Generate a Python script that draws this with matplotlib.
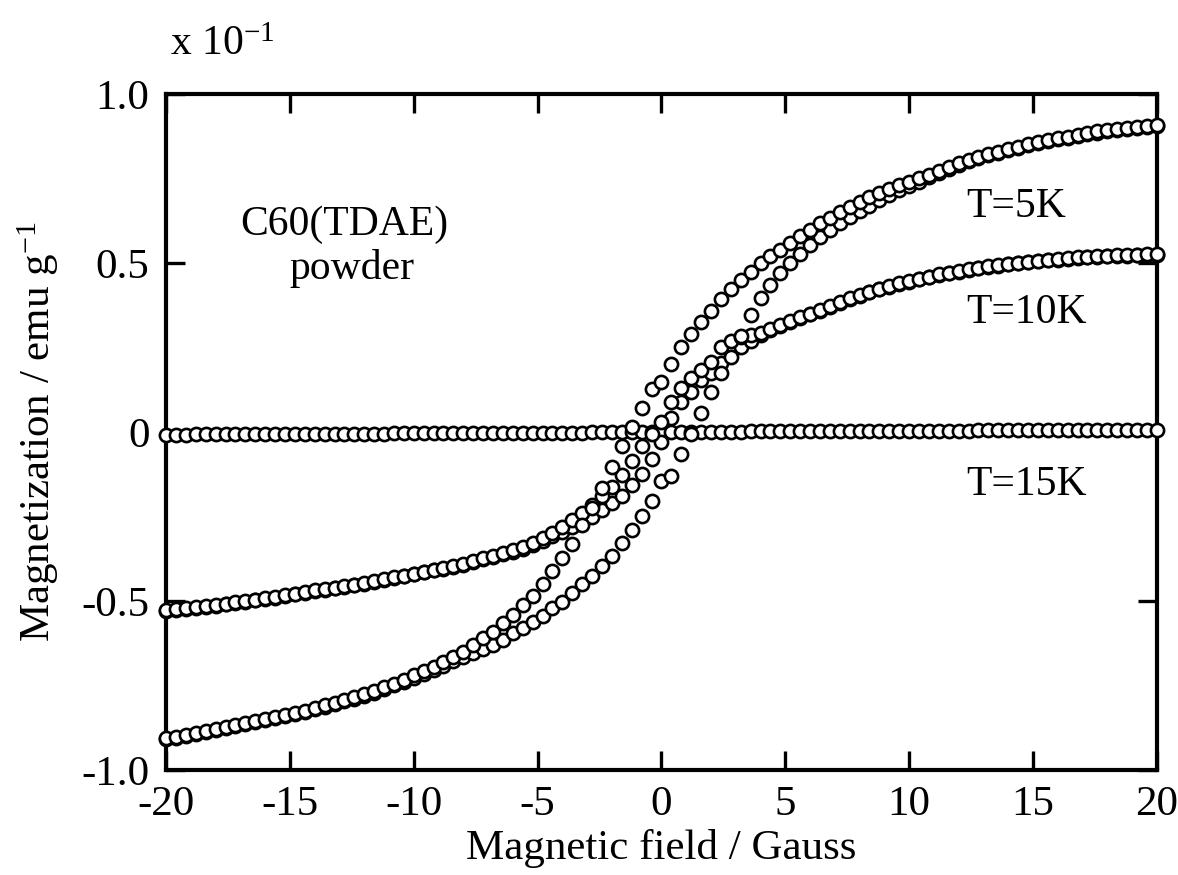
import numpy as np
import matplotlib
matplotlib.use("Agg")
import matplotlib.pyplot as plt

# field sweep, 0.4 G steps from -20 to 20 G
field = np.linspace(-20, 20, 101)

# T = 5K, field going down (upper branch)
m_5k_down = [
    -0.906, -0.901, -0.896, -0.890, -0.885, -0.879, -0.873, -0.867, -0.861, -0.855,
    -0.849, -0.843, -0.837, -0.831, -0.824, -0.817, -0.809, -0.801, -0.793, -0.784,
    -0.775, -0.765, -0.755, -0.745, -0.733, -0.720, -0.707, -0.694, -0.680, -0.665,
    -0.650, -0.630, -0.610, -0.591, -0.566, -0.541, -0.512, -0.485, -0.450, -0.410,
    -0.374, -0.331, -0.275, -0.225, -0.165, -0.105, -0.041, 0.014, 0.072, 0.127,
    0.149, 0.201, 0.250, 0.289, 0.324, 0.359, 0.393, 0.422, 0.450, 0.474,
    0.499, 0.522, 0.538, 0.558, 0.580, 0.598, 0.617, 0.634, 0.651, 0.666,
    0.681, 0.695, 0.708, 0.720, 0.731, 0.741, 0.750, 0.760, 0.772, 0.784,
    0.795, 0.804, 0.813, 0.821, 0.829, 0.836, 0.844, 0.851, 0.857, 0.863,
    0.869, 0.874, 0.880, 0.885, 0.889, 0.893, 0.896, 0.899, 0.902, 0.906,
    0.909,
]

# T = 5K, field going up (lower branch)
m_5k_up = [
    -0.909, -0.904, -0.899, -0.893, -0.888, -0.882, -0.876, -0.870, -0.864, -0.858,
    -0.852, -0.846, -0.840, -0.834, -0.828, -0.821, -0.813, -0.805, -0.797, -0.789,
    -0.780, -0.771, -0.761, -0.750, -0.739, -0.727, -0.715, -0.703, -0.691, -0.679,
    -0.666, -0.654, -0.642, -0.630, -0.615, -0.596, -0.581, -0.561, -0.544, -0.522,
    -0.502, -0.477, -0.450, -0.426, -0.395, -0.366, -0.329, -0.290, -0.250, -0.203,
    -0.144, -0.129, -0.065, -0.005, 0.055, 0.119, 0.174, 0.223, 0.285, 0.345,
    0.395, 0.435, 0.470, 0.499, 0.527, 0.553, 0.578, 0.598, 0.617, 0.636,
    0.654, 0.670, 0.686, 0.701, 0.715, 0.728, 0.741, 0.754, 0.767, 0.779,
    0.791, 0.801, 0.810, 0.818, 0.826, 0.833, 0.841, 0.848, 0.854, 0.860,
    0.866, 0.871, 0.877, 0.882, 0.886, 0.890, 0.893, 0.896, 0.899, 0.903,
    0.906,
]

# T = 10K, field going down
m_10k_down = [
    -0.527, -0.525, -0.522, -0.519, -0.516, -0.512, -0.508, -0.504, -0.500, -0.496,
    -0.492, -0.488, -0.483, -0.478, -0.473, -0.468, -0.464, -0.461, -0.456, -0.452,
    -0.448, -0.442, -0.436, -0.430, -0.425, -0.419, -0.413, -0.407, -0.402, -0.397,
    -0.391, -0.383, -0.374, -0.366, -0.359, -0.350, -0.340, -0.328, -0.315, -0.298,
    -0.280, -0.260, -0.241, -0.216, -0.190, -0.162, -0.127, -0.086, -0.041, -0.005,
    0.030, 0.090, 0.129, 0.159, 0.183, 0.208, 0.252, 0.270, 0.282, 0.288,
    0.292, 0.304, 0.317, 0.328, 0.339, 0.350, 0.361, 0.373, 0.385, 0.395,
    0.405, 0.415, 0.424, 0.432, 0.440, 0.447, 0.454, 0.460, 0.466, 0.471,
    0.476, 0.481, 0.486, 0.490, 0.494, 0.498, 0.501, 0.504, 0.507, 0.510,
    0.512, 0.515, 0.517, 0.519, 0.521, 0.522, 0.523, 0.524, 0.525, 0.526,
    0.527,
]

# T = 10K, field going up
m_10k_up = [
    -0.529, -0.526, -0.524, -0.521, -0.518, -0.514, -0.510, -0.506, -0.502, -0.498,
    -0.494, -0.490, -0.485, -0.480, -0.475, -0.470, -0.466, -0.462, -0.458, -0.454,
    -0.450, -0.444, -0.438, -0.432, -0.427, -0.421, -0.415, -0.409, -0.404, -0.399,
    -0.393, -0.386, -0.377, -0.369, -0.362, -0.354, -0.345, -0.334, -0.322, -0.308,
    -0.295, -0.282, -0.265, -0.252, -0.231, -0.211, -0.189, -0.157, -0.124, -0.080,
    -0.029, 0.040, 0.090, 0.119, 0.154, 0.174, 0.203, 0.235, 0.252, 0.270,
    0.286, 0.301, 0.314, 0.325, 0.336, 0.348, 0.359, 0.371, 0.382, 0.393,
    0.403, 0.413, 0.422, 0.430, 0.438, 0.445, 0.452, 0.458, 0.464, 0.469,
    0.474, 0.479, 0.484, 0.488, 0.492, 0.496, 0.499, 0.502, 0.505, 0.508,
    0.510, 0.513, 0.515, 0.517, 0.519, 0.520, 0.521, 0.522, 0.523, 0.524,
    0.525,
]

# T = 15K, no hysteresis
m_15k = [
    -0.008, -0.008, -0.008, -0.007, -0.007, -0.007, -0.007, -0.007, -0.007, -0.006,
    -0.006, -0.006, -0.006, -0.006, -0.006, -0.006, -0.005, -0.005, -0.005, -0.005,
    -0.005, -0.005, -0.005, -0.004, -0.004, -0.004, -0.004, -0.004, -0.004, -0.004,
    -0.004, -0.003, -0.003, -0.003, -0.003, -0.003, -0.003, -0.002, -0.002, -0.002,
    -0.002, -0.002, -0.002, -0.001, -0.001, -0.001, -0.001, -0.001, 0.000, 0.000,
    0.000, 0.000, 0.000, 0.001, 0.001, 0.001, 0.001, 0.001, 0.001, 0.002,
    0.002, 0.002, 0.002, 0.002, 0.002, 0.002, 0.003, 0.003, 0.003, 0.003,
    0.003, 0.003, 0.003, 0.003, 0.004, 0.004, 0.004, 0.004, 0.004, 0.004,
    0.004, 0.004, 0.005, 0.005, 0.005, 0.005, 0.005, 0.005, 0.005, 0.005,
    0.005, 0.006, 0.006, 0.006, 0.006, 0.006, 0.006, 0.006, 0.006, 0.006,
    0.006,
]

x_ticks = [-20, -15, -10, -5, 0, 5, 10, 15, 20]
x_tick_labels = ["-20", "-15", "-10", "-5", "0", "5", "10", "15", "20"]
y_ticks = [-1.0, -0.5, 0.0, 0.5, 1.0]
y_tick_labels = ["-1.0", "-0.5", "0", "0.5", "1.0"]

plt.rcParams["font.family"] = ["Liberation Serif", "DejaVu Serif"]
plt.rcParams["mathtext.fontset"] = "custom"
plt.rcParams["mathtext.rm"] = "Liberation Serif"
plt.rcParams["mathtext.default"] = "regular"

fig = plt.figure(figsize=(11.78, 8.75), dpi=100)
ax = fig.add_axes([0.141, 0.12, 0.841, 0.7726])

marker_style = dict(linestyle="none", marker="o", markersize=9.5,
                    markerfacecolor="white", markeredgecolor="black",
                    markeredgewidth=1.9, clip_on=False, zorder=3)

ax.plot(field, m_15k, **marker_style)
ax.plot(field, m_10k_up, **marker_style)
ax.plot(field, m_10k_down, **marker_style)
ax.plot(field, m_5k_up, **marker_style)
ax.plot(field, m_5k_down, **marker_style)

ax.set_xlim(-20, 20)
ax.set_ylim(-1.0, 1.0)
ax.set_xticks(x_ticks)
ax.set_xticklabels(x_tick_labels)
ax.set_yticks(y_ticks)
ax.set_yticklabels(y_tick_labels)

for spine in ax.spines.values():
    spine.set_linewidth(3)

ax.tick_params(direction="in", length=14, width=2.4, top=True, right=True,
               labelsize=31)
ax.tick_params(axis="x", pad=11)
ax.tick_params(axis="y", pad=12)

ax.set_xlabel("Magnetic field / Gauss", fontsize=31, va="center")
ax.xaxis.set_label_coords(0.5, -0.116)
ax.set_ylabel("Magnetization / emu g$^{-1}$", fontsize=31, va="center")
ax.yaxis.set_label_coords(-0.129, 0.5)

ax.text(-12.8, 0.612, "C60(TDAE)", fontsize=30, ha="center", va="center")
ax.text(-12.5, 0.485, "powder", fontsize=30, ha="center", va="center")
ax.text(12.3, 0.666, "T=5K", fontsize=30, ha="left", va="center")
ax.text(12.3, 0.352, "T=10K", fontsize=30, ha="left", va="center")
ax.text(12.3, -0.157, "T=15K", fontsize=30, ha="left", va="center")

fig.text(0.144, 0.949, "x 10$^{-1}$", fontsize=30, ha="left", va="center")

fig.savefig("out.png", dpi=100)
